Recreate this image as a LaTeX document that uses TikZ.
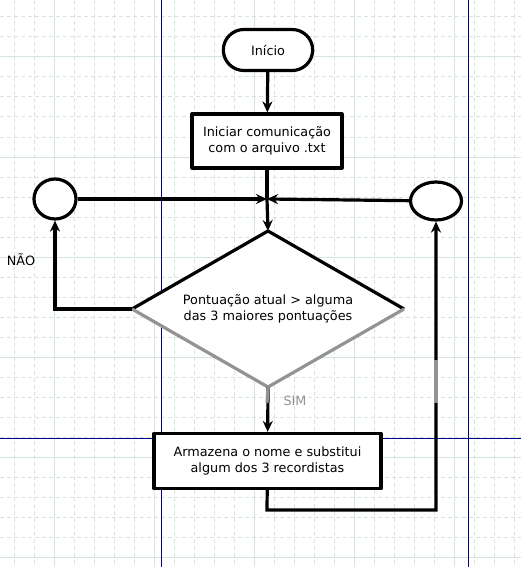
\documentclass[tikz,border=0pt]{standalone}
\usepackage{fontspec}
\setmainfont{DejaVu Sans}
\usetikzlibrary{shapes.geometric,shapes.misc,arrows.meta}

\tikzset{
  gridmin/.style={draw=gridcol, line width=1pt, dash pattern=on 4pt off 3pt},
  gridmaj/.style={draw=gridcol, line width=1pt},
  guide/.style={draw=guidecol, line width=1pt},
  flow/.style={line width=3.2pt, line join=round},
  txt/.style={font=\fontsize{12.8}{15.5}\selectfont, align=center},
  box/.style={rectangle, draw, flow, txt},
  lnk/.style={line width=3.2pt, -{Stealth[length=11pt,width=10pt]}},
}
\definecolor{gridcol}{HTML}{D6E4E0}
\definecolor{guidecol}{HTML}{00008B}
\definecolor{fadecol}{HTML}{939393}

\begin{document}
\begin{tikzpicture}[x=1pt, y=-1pt]
\useasboundingbox (0,0) rectangle (521,567);
\fill[white] (0,0) rectangle (521,567);

% grid
\foreach \x in {14,34,...,514} \draw[gridmin] (\x,0) -- (\x,567);
\foreach \y in {17,37,...,567} \draw[gridmin] (0,\y) -- (521,\y);
\foreach \x in {54,154,...,454} \draw[gridmaj] (\x,0) -- (\x,567);
\foreach \y in {57,157,...,557} \draw[gridmaj] (0,\y) -- (521,\y);
\draw[guide] (161,0) -- (161,567);
\draw[guide] (468,0) -- (468,567);
\draw[guide] (0,438) -- (521,438);

% diamond corners
\coordinate (testN) at (268,231);
\coordinate (testW) at (132,309);
\coordinate (testE) at (404,309);
\coordinate (testS) at (268,387);
\fill[white] (testN) -- (testE) -- (testS) -- (testW) -- cycle;

% nodes
\node (start) at (268,50) [rounded rectangle, draw, flow, fill=white, minimum width=96pt, minimum height=41pt, txt] {Início};
\node (open) at (267,141) [box, fill=white, minimum width=150pt, minimum height=54pt] {Iniciar comunicação\\com o arquivo .txt};
\node (test) at (268,309) [txt] {Pontuação atual > alguma\\das 3 maiores pontuações};
\node (store) at (267.5,461) [box, fill=white, minimum width=227pt, minimum height=55pt] {Armazena o nome e substitui\\algum dos 3 recordistas};
\node (loopL) at (55,199) [ellipse, draw, flow, fill=white, minimum width=42pt, minimum height=40pt, inner sep=0pt] {};
\node (loopR) at (436,201) [ellipse, draw, flow, fill=white, minimum width=51pt, minimum height=38pt, inner sep=0pt] {};
\node (nao) at (21,260) [txt, text=black] {NÃO};
\node (sim) at (295,401) [txt, text=fadecol] {SIM};

\coordinate (join) at (267,199);
\coordinate (cornerL) at (55,309);
\coordinate (downR) at (267,510);
\coordinate (cornerR) at (436,510);

% diamond outline
\draw[flow] (testW) -- (testN) -- (testE);
\draw[flow, draw=fadecol] (testE) -- (testS) -- (testW);

% connectors
\draw[lnk] (start) -- (open);
\draw[flow] (open) -- (join);
\draw[lnk] (join) -- (testN);
\draw[lnk] (loopL) -- (join);
\draw[lnk] (loopR) -- (join);
\draw[lnk] (testW) -- (cornerL) -- (loopL);
\draw[lnk] (testS) -- (store);
\draw[draw=fadecol, line width=3.2pt] (testS) -- (267,403);
\draw[lnk] (store) -- (downR) -- (cornerR) -- (loopR);
\draw[draw=fadecol, line width=3.2pt] (436,360) -- (436,403);
\end{tikzpicture}
\end{document}
